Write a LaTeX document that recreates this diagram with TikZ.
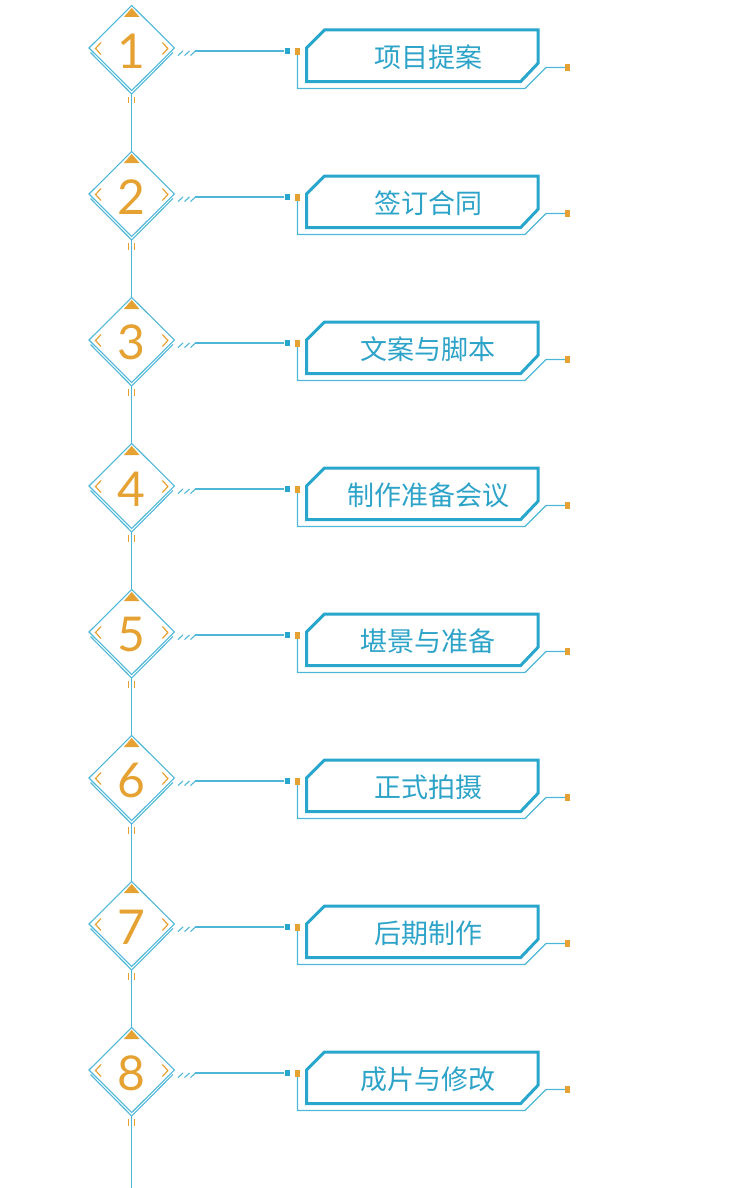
\documentclass[tikz,border=0pt]{standalone}
\usepackage{fontspec}
\newfontfamily\cjk{Noto Sans CJK SC}
\newfontfamily\numf{Lato}
\definecolor{lineblue}{RGB}{78,183,216}
\definecolor{boxblue}{RGB}{40,166,204}
\definecolor{txtblue}{RGB}{45,163,200}
\definecolor{orng}{RGB}{229,162,50}
\tikzset{
  thinln/.style={draw=lineblue, line width=1.1pt},
  thickbox/.style={draw=boxblue, line width=3pt, line join=miter},
  orangeln/.style={draw=orng, line width=1.2pt},
  orangefill/.style={fill=orng},
  numlabel/.style={text=orng, font=\numf\fontsize{48}{48}\selectfont, inner sep=0pt},
  steplabel/.style={text=txtblue, font=\cjk\fontsize{27}{27}\selectfont, inner sep=0pt},
}
\begin{document}
\begin{tikzpicture}[x=1pt,y=-1pt]
\useasboundingbox (0,0) rectangle (751,1188);
\foreach \i/\t in {1/项目提案,2/签订合同,3/文案与脚本,4/制作准备会议,5/堪景与准备,6/正式拍摄,7/后期制作,8/成片与修改} {
  \pgfmathsetmacro\yy{48+146*(\i-1)}
  \begin{scope}[shift={(0,\yy)}]
    % diamond
    \coordinate (top\i) at (131.7,-42.5);
    \coordinate (bot\i) at (131.7,46);
    \draw[thinln] (131.7,-42.5) -- (89,0) -- (131.7,42.5) -- (174.4,0) -- cycle;
    \draw[thinln] (90.5,4.5) -- (bot\i) -- (172.9,4.5);
    % top triangle
    \fill[orangefill] (131.7,-40) -- (139.5,-31) -- (123.9,-31) -- cycle;
    % chevrons
    \draw[orangeln] (101,-5.5) -- (95.5,0.5) -- (101,6.5);
    \draw[orangeln] (162.4,-5.5) -- (167.9,0.5) -- (162.4,6.5);
    % number
    \node[numlabel] (n\i) at (131.4,2.8) {\i};
    % ticks
    \draw[orangeln] (128.8,49) -- (128.8,55.5);
    \draw[orangeln] (134.6,49) -- (134.6,55.5);
    % slashes
    \foreach \sx in {178,184.5,190.5}
      \draw[thinln] (\sx,7.5) -- (\sx+5,3);
    % connector line and squares
    \coordinate (hs\i) at (195,3);
    \node[fill=boxblue, minimum width=5pt, minimum height=6.5pt, inner sep=0pt] (bs\i) at (287,3) {};
    \node[fill=orng, minimum width=5pt, minimum height=7pt, inner sep=0pt] (os\i) at (297.5,3.5) {};
    \draw[thinln] (hs\i) -- (bs\i.west);
    % thick box
    \draw[thickbox] (306.5,0) -- (324.5,-18) -- (538,-18) -- (538,15.3) -- (520.5,33.7) -- (306.5,33.7) -- cycle;
    \node[steplabel] (t\i) at (428,9) {\t};
    % outer thin line
    \node[fill=orng, minimum width=5pt, minimum height=7pt, inner sep=0pt] (es\i) at (567.5,19.5) {};
    \draw[thinln] (os\i.south) -- (297.5,40.5) -- (525,40.5) -- (546,19.5) -- (es\i.west);
  \end{scope}
}
\foreach \i [evaluate=\i as \j using int(\i+1)] in {1,...,7}
  \draw[thinln] (bot\i) -- (top\j);
\coordinate (endpt) at (131.7,1188);
\draw[thinln] (bot8) -- (endpt);
\end{tikzpicture}
\end{document}
